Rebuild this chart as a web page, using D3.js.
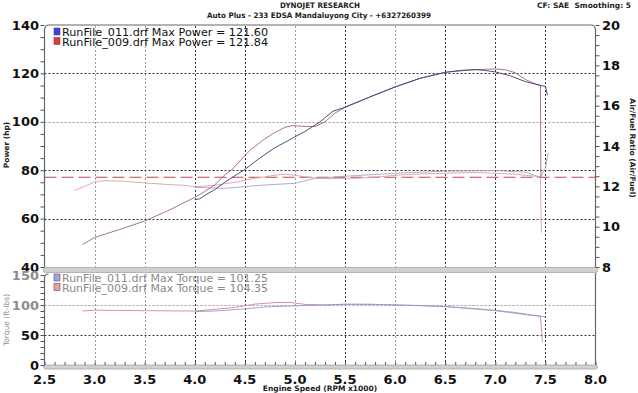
<!DOCTYPE html>
<html><head><meta charset="utf-8">
<script src="https://cdn.jsdelivr.net/npm/d3@7"></script>
<style>body{margin:0;background:#fff}svg{display:block}</style>
</head><body><svg id="c" width="638" height="393"></svg>
<script>
// ---------------- data ----------------
const xTicks = [2.5,3.0,3.5,4.0,4.5,5.0,5.5,6.0,6.5,7.0,7.5,8.0];
const powerTicks = [40,60,80,100,120,140];
const afrTicks = [8,10,12,14,16,18,20];
const torqueTicks = [0,50,100,150];
const afrTarget = 12.45;

// RunFile_011 (blue) power
const rpm011 = [4.0,4.05,4.1,4.2,4.3,4.4,4.5,4.6,4.7,4.8,4.9,5.0,5.1,5.25,5.38,5.5,5.75,6.0,6.25,6.5,6.65,6.8,6.9,7.0,7.15,7.3,7.43,7.5,7.52];
const pow011 = [67.8,68.2,69.6,72,75,77.7,80.3,83.5,86.5,89.3,91.5,93.8,96,100,104.4,106,110.3,114.4,118,120.4,121.2,121.6,121.2,120.6,119,116.6,115.3,114.6,111];
// RunFile_009 (red) power
const rpm009 = [2.88,3.0,3.25,3.5,3.75,4.0,4.1,4.2,4.3,4.38,4.5,4.55,4.7,4.8,4.9,4.97,5.05,5.2,5.3,5.4,5.5,5.75,6.0,6.25,6.5,6.75,6.9,7.0,7.1,7.2,7.3,7.4,7.45,7.455];
const pow009 = [49.3,52.2,55.5,59,63.6,68.8,71.2,74,78,80.6,86,88.2,93,95.6,97.7,98.4,98.2,98,100,103.6,106,110.3,114.4,118,120.5,121.4,121.7,121.84,121.5,120.3,117.5,115.6,115,77];

// Air/Fuel ratio
const afrRpm011 = [4.0,4.3,4.65,5.0,5.2,5.5,6.0,6.5,7.0,7.3,7.45,7.5,7.52,7.53];
const afr011 = [11.95,11.9,12.05,12.15,12.4,12.5,12.65,12.75,12.78,12.7,12.45,12.9,13.5,13.65];
const afrRpm009 = [2.8,2.9,3.0,3.1,3.3,3.5,3.7,3.9,4.0,4.2,4.4,4.6,4.8,4.9,5.0,5.2,5.4,5.6,5.8,6.0,6.2,6.5,6.8,7.0,7.2,7.4,7.45,7.46];
const afr009 = [11.8,12.0,12.22,12.28,12.25,12.17,12.1,12.05,11.98,12.05,12.2,12.4,12.55,12.6,12.55,12.4,12.38,12.4,12.45,12.55,12.6,12.65,12.68,12.65,12.6,12.5,12.4,9.7];

// Torque
const tqRpm011 = [4.0,4.2,4.5,4.7,4.9,5.0,5.25,5.5,5.75,6.0,6.5,7.0,7.3,7.5];
const tq011 = [89,90,93.5,96.7,98,98.5,100,101.25,101,100.1,97.4,90.5,84,80.3];
const tqRpm009 = [2.88,3.0,3.5,4.0,4.2,4.4,4.6,4.8,4.95,5.1,5.3,5.5,5.75,6.0,6.25,6.5,6.75,7.0,7.2,7.35,7.45,7.46,7.47];
const tq009 = [90,91.4,90.5,90,92.7,96,101.5,104,104.35,101,100,101.2,101.2,100.1,99.2,97.4,94.5,91.2,87.5,83.7,81.5,60,38];

const legendPower = ["RunFile_011.drf Max Power = 121.60","RunFile_009.drf Max Power = 121.84"];
const legendTorque = ["RunFile_011.drf Max Torque = 101.25","RunFile_009.drf Max Torque = 104.35"];

// ---------------- scales ----------------
const svg = d3.select("#c");
const L = 44.5, R = 595.5, T1 = 25, B1 = 267, T2 = 275, B2 = 365;
const x = d3.scaleLinear().domain([2.5,8]).range([L,R]);
const yP = d3.scaleLinear().domain([40,140]).range([B1,T1]);
const yA = d3.scaleLinear().domain([8,20]).range([B1,T1]);
const yT = d3.scaleLinear().domain([0,150]).range([B2,T2]);

const FONT = "'DejaVu Sans', Verdana, sans-serif";

// ---------------- frames ----------------
svg.append("path")
  .attr("d", `M${L},${B1} L${L},${T1+5} Q${L},${T1} ${L+5},${T1} L${R-5},${T1} Q${R},${T1} ${R},${T1+5} L${R},${B1}`)
  .attr("fill","none").attr("stroke","#666").attr("stroke-width",1.2);
svg.append("rect").attr("x",L-1).attr("y",B1+0.5).attr("width",R-L+3).attr("height",5)
  .attr("fill","#d0d0cc").attr("stroke","#a8a8a4").attr("stroke-width",0.8).attr("rx",2);
svg.append("path")
  .attr("d", `M${L},${B2} L${L},${T2+3} Q${L},${T2-1} ${L+4},${T2-1}`)
  .attr("fill","none").attr("stroke","#666").attr("stroke-width",1.2);
svg.append("line").attr("x1",R).attr("x2",R).attr("y1",T2-2).attr("y2",B2).attr("stroke","#666").attr("stroke-width",1.2);
svg.append("rect").attr("x",L-1).attr("y",B2).attr("width",R-L+3).attr("height",4)
  .attr("fill","#d0d0cc").attr("stroke","#a8a8a4").attr("stroke-width",0.8).attr("rx",2);

// ---------------- grid ----------------
const lightX = new Set([3.0,3.5,5.0,6.0]);
const gx = xTicks.filter(v => v > 2.5 && v < 8);
[[T1,B1],[T2,B2]].forEach(([t,b]) => {
  svg.append("g").selectAll("line").data(gx).join("line")
    .attr("x1", d => Math.round(x(d))+0.5).attr("x2", d => Math.round(x(d))+0.5)
    .attr("y1", t+1).attr("y2", b)
    .attr("stroke", d => lightX.has(d) ? "#9a9a9a" : "#333")
    .attr("stroke-width",1).attr("stroke-dasharray","2,2");
});
svg.append("g").selectAll("line").data([60,80,100,120]).join("line")
  .attr("x1",L).attr("x2",R).attr("y1", d => Math.round(yP(d))+0.5).attr("y2", d => Math.round(yP(d))+0.5)
  .attr("stroke", d => d===100 ? "#9a9a9a" : "#333").attr("stroke-dasharray","2,2");
svg.append("g").selectAll("line").data([50,100]).join("line")
  .attr("x1",L).attr("x2",R).attr("y1", d => Math.round(yT(d))+0.5).attr("y2", d => Math.round(yT(d))+0.5)
  .attr("stroke", d => d===100 ? "#9a9a9a" : "#333").attr("stroke-dasharray","2,2");

// ---------------- axes ----------------
const leftP = d3.axisLeft(yP).tickValues(d3.range(40,141,5)).tickSize(4).tickFormat("");
svg.append("g").attr("transform",`translate(${L},0)`).call(leftP)
  .call(g => g.select(".domain").remove()).selectAll("line").attr("stroke","#555");
svg.append("g").selectAll("text").data(powerTicks).join("text")
  .attr("x",39).attr("y", d => yP(d)+4.5).attr("text-anchor","end")
  .attr("font-family",FONT).attr("font-weight","bold").attr("font-size",13).attr("fill","#111")
  .text(d => d);

const rightA = d3.axisRight(yA).tickValues(d3.range(8,20.01,0.5)).tickSize(4).tickFormat("");
svg.append("g").attr("transform",`translate(${R},0)`).call(rightA)
  .call(g => g.select(".domain").remove()).selectAll("line").attr("stroke","#555");
svg.append("g").selectAll("text").data(afrTicks).join("text")
  .attr("x",602).attr("y", d => yA(d)+4.5).attr("text-anchor","start")
  .attr("font-family",FONT).attr("font-weight","bold").attr("font-size",13).attr("fill","#111")
  .text(d => d);

const leftT = d3.axisLeft(yT).tickValues(d3.range(0,151,10)).tickSize(4).tickFormat("");
svg.append("g").attr("transform",`translate(${L},0)`).call(leftT)
  .call(g => g.select(".domain").remove()).selectAll("line").attr("stroke","#555");
svg.append("g").selectAll("text").data(torqueTicks).join("text")
  .attr("x",39).attr("y", d => yT(d)+4.5).attr("text-anchor","end")
  .attr("font-family",FONT).attr("font-weight","bold").attr("font-size",13)
  .attr("fill", d => d >= 100 ? "#8c8c8c" : "#111")
  .text(d => d);

const bottomX = d3.axisTop(x).tickValues(d3.range(25,81,1).map(v=>v/10)).tickSize(3).tickFormat("");
svg.append("g").attr("transform",`translate(0,${B2})`).call(bottomX)
  .call(g => g.select(".domain").remove()).selectAll("line").attr("stroke","#555");
svg.append("g").selectAll("text").data(xTicks).join("text")
  .attr("x", d => x(d)).attr("y",384).attr("text-anchor","middle")
  .attr("font-family",FONT).attr("font-weight","bold").attr("font-size",13).attr("fill","#111")
  .text(d => d.toFixed(1));

// ---------------- target AFR dashed line ----------------
svg.append("line").attr("x1",L).attr("x2",R).attr("y1",yA(afrTarget)).attr("y2",yA(afrTarget))
  .attr("stroke","#c0474a").attr("stroke-width",1.2).attr("stroke-dasharray","12,5");

// ---------------- curves ----------------
function drawLine(xs, ys, yScale, color, w) {
  const pts = xs.map((v,i) => [v, ys[i]]);
  svg.append("path").datum(pts)
    .attr("d", d3.line().x(d => x(d[0])).y(d => yScale(d[1])).curve(d3.curveLinear))
    .attr("fill","none").attr("stroke",color).attr("stroke-width",w).attr("stroke-linejoin","round");
}
drawLine(afrRpm009, afr009, yA, "#d7a0aa", 0.9);
drawLine(afrRpm011, afr011, yA, "#a4a4cc", 0.9);
drawLine(tqRpm009, tq009, yT, "#c98a96", 0.9);
drawLine(tqRpm011, tq011, yT, "#9a9ad0", 0.9);
drawLine(rpm009, pow009, yP, "#a06470", 0.9);
drawLine(rpm011, pow011, yP, "#3a3a78", 0.9);

// ---------------- legends ----------------
function legend(lines, y0, colors, textColor) {
  lines.forEach((t,i) => {
    const y = y0 + i*9.5;
    svg.append("rect").attr("x",54).attr("y",y-8).attr("width",6).attr("height",7)
      .attr("fill",colors[i]).attr("stroke","#555").attr("stroke-width",0.6);
    svg.append("text").attr("x",62).attr("y",y).attr("font-family",FONT).attr("font-size",10.5)
      .attr("fill",textColor).attr("textLength",206).attr("lengthAdjust","spacingAndGlyphs").text(t);
  });
}
legend(legendPower, 36, ["#3d3df0","#e03838"], "#111");
legend(legendTorque, 282, ["#a0a0ee","#eaa0a0"], "#8a8a8a");

// ---------------- titles ----------------
svg.append("text").attr("x",320).attr("y",8).attr("text-anchor","middle")
  .attr("font-family",FONT).attr("font-weight","bold").attr("font-size",7.5).attr("fill","#222")
  .attr("textLength",80).attr("lengthAdjust","spacingAndGlyphs").text("DYNOJET RESEARCH");
svg.append("text").attr("x",319).attr("y",18).attr("text-anchor","middle")
  .attr("font-family",FONT).attr("font-weight","bold").attr("font-size",7.5).attr("fill","#222")
  .attr("textLength",224).attr("lengthAdjust","spacingAndGlyphs").text("Auto Plus - 233 EDSA Mandaluyong City - +6327260399");
svg.append("text").attr("x",631).attr("y",8).attr("text-anchor","end")
  .attr("font-family",FONT).attr("font-weight","bold").attr("font-size",7.5).attr("fill","#222")
  .text("CF: SAE\u00a0\u00a0Smoothing: 5");
svg.append("text").attr("x",320).attr("y",391).attr("text-anchor","middle")
  .attr("font-family",FONT).attr("font-weight","bold").attr("font-size",7.5).attr("fill","#222")
  .text("Engine Speed (RPM x1000)");
svg.append("text").attr("transform","translate(9,145) rotate(-90)").attr("text-anchor","middle")
  .attr("font-family",FONT).attr("font-weight","bold").attr("font-size",7.5).attr("fill","#222")
  .text("Power (hp)");
svg.append("text").attr("transform","translate(9,320) rotate(-90)").attr("text-anchor","middle")
  .attr("font-family",FONT).attr("font-size",7.5).attr("fill","#8a8a8a")
  .text("Torque (ft-lbs)");
svg.append("text").attr("transform","translate(630,148) rotate(90)").attr("text-anchor","middle")
  .attr("font-family",FONT).attr("font-weight","bold").attr("font-size",7.5).attr("fill","#222")
  .text("Air/Fuel Ratio (Air/Fuel)");
</script></body></html>
